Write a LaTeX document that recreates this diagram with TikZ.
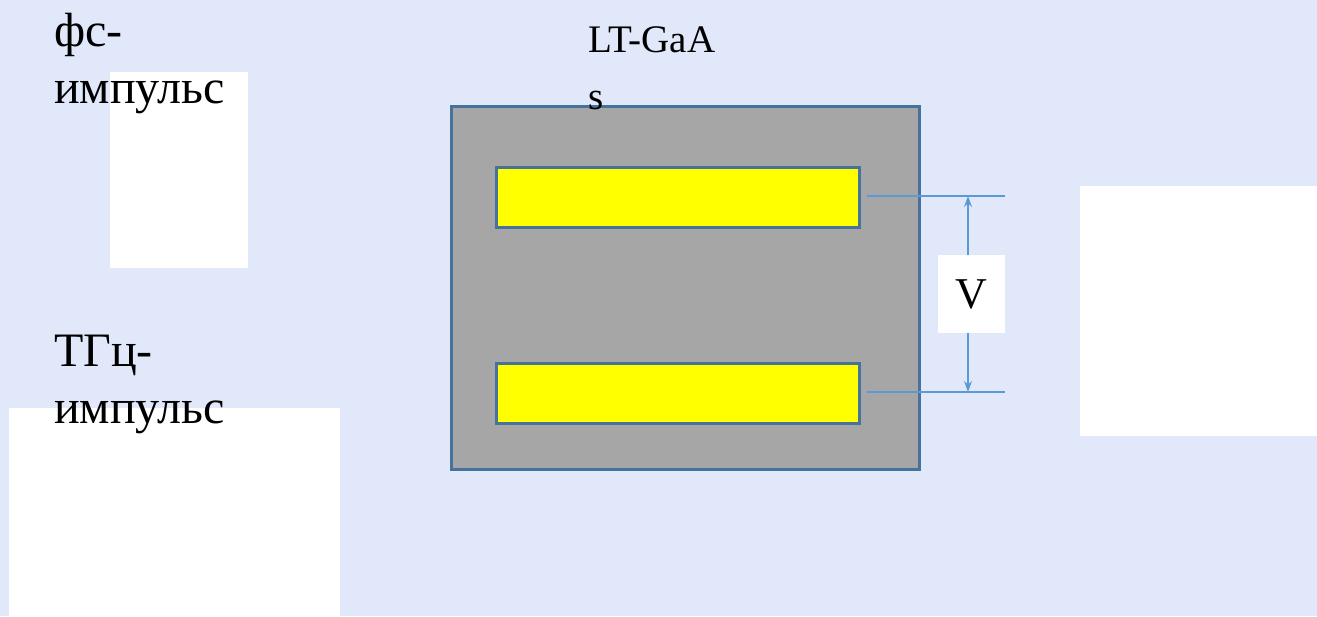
\documentclass[tikz,border=0pt]{standalone}
\usepackage{fontspec}
\setmainfont{Liberation Serif}
\usetikzlibrary{arrows.meta}
\definecolor{bgcol}{RGB}{225,232,249}
\definecolor{frame}{RGB}{70,114,156}
\definecolor{wire}{RGB}{91,155,213}
\definecolor{substrate}{RGB}{166,166,166}
\definecolor{metal}{RGB}{255,255,0}
\tikzset{
  blank/.style={fill=white, inner sep=0pt, anchor=north west},
  chip/.style={fill=substrate, draw=frame, line width=2.5pt, inner sep=0pt, anchor=north west},
  electrode/.style={fill=metal, draw=frame, line width=2.5pt, inner sep=0pt, anchor=north west},
  ruslabel/.style={inner sep=0pt, anchor=north west, align=left, font=\fontsize{48}{57}\selectfont},
  lead/.style={draw=wire, line width=1.5pt},
  gap/.style={lead, {Stealth[length=11pt,width=8pt]}-{Stealth[length=11pt,width=8pt]}}
}
\begin{document}
\begin{tikzpicture}[x=1pt, y=-1pt]
  % page and background
  \fill[bgcol] (0,0) rectangle (1317,616);
  \useasboundingbox (0,0) rectangle (1317,616);

  % white panels
  \node[blank, minimum width=138pt, minimum height=196pt] (p1) at (110,72) {};
  \node[blank, minimum width=331pt, minimum height=208pt] (p2) at (9,408) {};
  \node[blank, minimum width=237pt, minimum height=250pt] (p3) at (1080,186) {};

  % LT-GaAs chip with two electrodes
  \node[chip, minimum width=468pt, minimum height=363pt] (chip) at (450,105) {};
  \node[electrode, minimum width=363pt, minimum height=60pt] (etop) at (495,166) {};
  \node[electrode, minimum width=363pt, minimum height=60pt] (ebot) at (495,362) {};

  % leads and bias arrow
  \coordinate (l1a) at (867,196);
  \coordinate (l1b) at (1005,196);
  \coordinate (l2a) at (867,392);
  \coordinate (l2b) at (1005,392);
  \coordinate (a1) at (968,196);
  \coordinate (a2) at (968,392);
  \draw[lead] (l1a) -- (l1b);
  \draw[lead] (l2a) -- (l2b);
  \draw[gap] (a1) -- (a2);
  \node[fill=white, inner sep=0pt, minimum width=67pt, minimum height=78pt,
        font=\fontsize{44}{52}\selectfont] (volt) at (971.5,294) {V};

  % labels
  \node[ruslabel] (fs) at (54,13) {фс-\\импульс};
  \node[ruslabel] (thz) at (54,335) {ТГц-\\импульс};
  \node[inner sep=0pt, anchor=north west, align=left,
        font=\fontsize{39}{57}\selectfont] (mat) at (588,26) {LT-GaA\\s};
\end{tikzpicture}
\end{document}
